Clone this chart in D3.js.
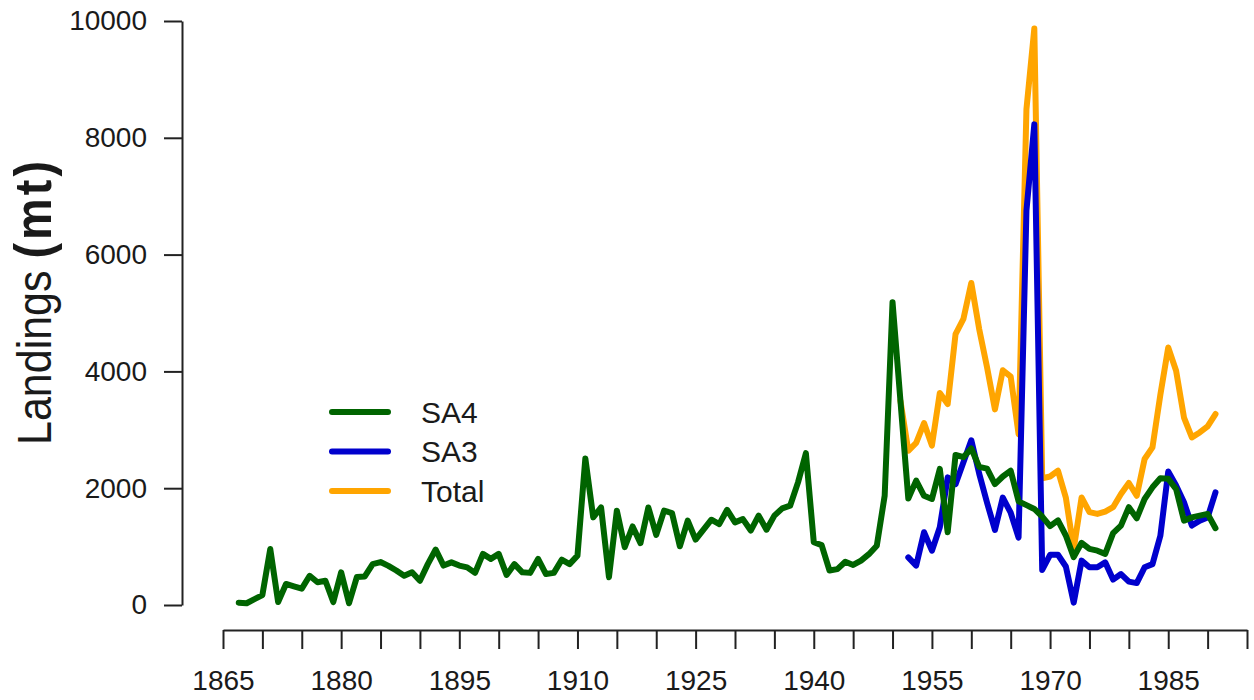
<!DOCTYPE html>
<html>
<head>
<meta charset="utf-8">
<script src="https://d3js.org/d3.v7.min.js"></script>
<style>
  body { margin: 0; background: #fff; }
  text { font-family: "Liberation Sans", Arial, Helvetica, sans-serif; fill: #1a1a1a; }
</style>
</head>
<body>
<svg id="chart" width="1254" height="700"></svg>
<script>
// landings data (mt), one value per year
var sa4Start = 1867;
var sa4Values = [
  40, 30, 100, 170, 960, 50, 360, 320, 280, 500,          // 1867-1876
  390, 415, 50, 560, 30, 480, 490, 700, 735, 670,         // 1877-1886
  590, 500, 560, 415, 700, 950, 675, 730, 675, 645,       // 1887-1896
  550, 875, 790, 875, 515, 700, 560, 550, 790, 530,       // 1897-1906
  550, 775, 700, 845, 2510, 1500, 1670, 475, 1615, 990,   // 1907-1916
  1345, 1060, 1670, 1200, 1615, 1575, 1005, 1445, 1120, 1290, // 1917-1926
  1460, 1385, 1630, 1415, 1470, 1275, 1530, 1290, 1530, 1655, // 1927-1936
  1700, 2100, 2600, 1075, 1025, 590, 615, 740, 685, 760,  // 1937-1946
  870, 1015, 1870, 5185, 3500, 1825, 2130, 1870, 1815, 2330, // 1947-1956
  1245, 2570, 2530, 2680, 2365, 2335, 2070, 2200, 2300, 1775, // 1957-1966
  1710, 1645, 1515, 1350, 1450, 1190, 820, 1065, 960, 930, // 1967-1976
  875, 1230, 1360, 1675, 1485, 1815, 2015, 2170, 2160, 1985, // 1977-1986
  1445, 1500, 1530, 1560, 1315                             // 1987-1991
];

var sa3Start = 1952;
var sa3Values = [
  815, 675, 1245, 930, 1330, 2185, 2070, 2445, 2820, 2250, // 1952-1961
  1750, 1285, 1840, 1580, 1155, 6755, 8230, 600, 860, 860, // 1962-1971
  660, 40, 760, 645, 645, 730, 435, 530, 400, 375,         // 1972-1981
  645, 700, 1185, 2285, 2045, 1760, 1360, 1445, 1500, 1930 // 1982-1991
];

var totalStart = 1951;
var totalValues = [
  3500, 2640, 2775, 3115, 2730, 3630, 3440, 4640, 4900, 5515, // 1951-1960
  4725, 4070, 3350, 4020, 3910, 2925, 8490, 9870, 2170, 2200, // 1961-1970
  2300, 1840, 960, 1840, 1590, 1560, 1600, 1675, 1900, 2090,  // 1971-1980
  1870, 2500, 2700, 3600, 4410, 4010, 3210, 2870, 2955, 3060, // 1981-1990
  3270                                                        // 1991
];

var seriesNames = ["SA4", "SA3", "Total"];
var seriesColors = ["#006400", "#0000cd", "#ffa500"];
var yTicks = [0, 2000, 4000, 6000, 8000, 10000];
var xTicks = [1865, 1870, 1875, 1880, 1885, 1890, 1895, 1900, 1905, 1910, 1915, 1920, 1925,
              1930, 1935, 1940, 1945, 1950, 1955, 1960, 1965, 1970, 1975, 1980, 1985, 1990, 1995];
var xLabels = [1865, 1880, 1895, 1910, 1925, 1940, 1955, 1970, 1985];

var svg = d3.select("#chart");

var x = d3.scaleLinear().domain([1865, 1995]).range([223, 1247]);
var y = d3.scaleLinear().domain([0, 10000]).range([605, 21]);

function toPoints(start, values) {
  return values.map(function(v, i) { return {year: start + i, value: v}; });
}

// y axis
svg.append("g")
    .attr("transform", "translate(182,0)")
    .call(d3.axisLeft(y).tickValues(yTicks).tickSize(18).tickSizeOuter(0).tickPadding(17)
      .tickFormat(d3.format("d")));

// x axis, labels only on every third tick
svg.append("g")
    .attr("transform", "translate(0,630)")
    .call(d3.axisBottom(x).tickValues(xTicks).tickSize(19).tickSizeOuter(0).tickPadding(21)
      .tickFormat(function(d) { return xLabels.indexOf(d) >= 0 ? d : ""; }));

svg.selectAll(".domain, .tick line").attr("stroke", "#222").attr("stroke-width", 2);
svg.selectAll(".tick text")
    .attr("font-size", 28)
    .attr("font-family", "Liberation Sans, Arial, sans-serif")
    .attr("fill", "#1a1a1a");

// y axis title (starts at the bottom, reads upwards)
var title = svg.append("text")
    .attr("transform", "translate(51,445) scale(1.12,1) rotate(-90)")
    .attr("text-anchor", "start");
title.append("tspan").attr("font-size", 43).text("Landings ");
title.append("tspan").attr("font-size", 47).attr("font-weight", "bold")
    .attr("letter-spacing", 3).text("(mt)");

// lines
var line = d3.line()
    .x(function(d) { return x(d.year); })
    .y(function(d) { return y(d.value); });

var series = [
  {name: "Total", color: seriesColors[2], data: toPoints(totalStart, totalValues)},
  {name: "SA3", color: seriesColors[1], data: toPoints(sa3Start, sa3Values)},
  {name: "SA4", color: seriesColors[0], data: toPoints(sa4Start, sa4Values)}
];

svg.append("g").selectAll("path")
  .data(series)
  .enter().append("path")
    .attr("d", function(d) { return line(d.data); })
    .attr("fill", "none")
    .attr("stroke", function(d) { return d.color; })
    .attr("stroke-width", 6)
    .attr("stroke-linejoin", "round")
    .attr("stroke-linecap", "round");

// legend
var legend = svg.append("g").selectAll("g")
  .data(seriesNames)
  .enter().append("g")
    .attr("transform", function(d, i) { return "translate(332," + (412 + i * 39.5) + ")"; });

legend.append("line")
    .attr("x1", 0).attr("x2", 56)
    .attr("stroke", function(d, i) { return seriesColors[i]; })
    .attr("stroke-width", 6)
    .attr("stroke-linecap", "round");

legend.append("text")
    .attr("x", 89)
    .attr("dy", "0.36em")
    .attr("font-size", 30)
    .text(function(d) { return d; });
</script>
</body>
</html>
